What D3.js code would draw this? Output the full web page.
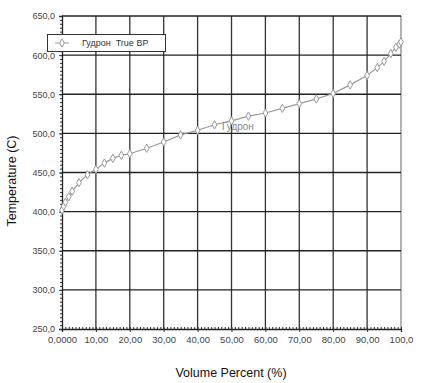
<!DOCTYPE html>
<html>
<head>
<meta charset="utf-8">
<script src="https://cdn.jsdelivr.net/npm/d3@7"></script>
<style>
  body { margin: 0; background: #fff; }
  svg { display: block; font-family: "Liberation Sans", Arial, sans-serif; }
</style>
</head>
<body>
<script>
// distillation curve
const volume = [0, 0.5, 1, 2, 3, 5, 7.5, 10, 12.5, 15, 17.5, 20, 25, 30, 35, 40, 45, 50, 55, 60, 65, 70, 75, 80, 85, 90, 93, 95, 97, 98.5, 99.5, 100];
const temperature = [402, 407, 412, 419, 426, 437, 447, 454, 462, 468, 472, 474, 481, 489, 498, 504, 511, 516, 522, 526, 532, 538, 544, 551, 562, 574, 584, 592, 602, 610, 614, 617];
const xTicks = [0, 10, 20, 30, 40, 50, 60, 70, 80, 90, 100];
const xTickLabels = ["0,0000", "10,00", "20,00", "30,00", "40,00", "50,00", "60,00", "70,00", "80,00", "90,00", "100,0"];
const yTicks = [250, 300, 350, 400, 450, 500, 550, 600, 650];
const yTickLabels = ["250,0", "300,0", "350,0", "400,0", "450,0", "500,0", "550,0", "600,0", "650,0"];
const seriesName = "Гудрон  True BP";
const curveLabel = "Гудрон";

const W = 422, H = 383;
const mLeft = 62, mRight = 401, mTop = 16, mBottom = 329;

const svg = d3.select("body").append("svg")
    .attr("width", W)
    .attr("height", H);

const x = d3.scaleLinear().domain([0, 100]).range([mLeft, mRight]);
const y = d3.scaleLinear().domain([250, 650]).range([mBottom, mTop]);

// grid
svg.append("g")
    .selectAll("line")
    .data(xTicks.slice(1))
    .enter()
    .append("line")
    .attr("x1", d => x(d)).attr("x2", d => x(d))
    .attr("y1", mTop).attr("y2", mBottom)
    .attr("stroke", d => d === 100 ? "#888" : "#333")
    .attr("stroke-width", 1.3);

svg.append("g")
    .selectAll("line")
    .data(yTicks.slice(1))
    .enter()
    .append("line")
    .attr("x1", mLeft).attr("x2", mRight)
    .attr("y1", d => y(d)).attr("y2", d => y(d))
    .attr("stroke", "#222")
    .attr("stroke-width", 1.3);

// minor ticks
const xAxisMinor = d3.axisTop(x).ticks(100).tickSize(2).tickFormat("");
svg.append("g")
    .attr("transform", `translate(0,${mBottom})`)
    .call(xAxisMinor)
    .call(g => g.selectAll("line").attr("stroke", "#333"))
    .call(g => g.select(".domain").remove());

const yAxisMinor = d3.axisLeft(y).ticks(80).tickSize(2).tickFormat("");
svg.append("g")
    .attr("transform", `translate(${mLeft},0)`)
    .call(yAxisMinor)
    .call(g => g.selectAll("line").attr("stroke", "#333"))
    .call(g => g.select(".domain").remove());

// main axes
const xAxis = d3.axisBottom(x)
    .tickValues(xTicks)
    .tickSize(3)
    .tickFormat((d, i) => xTickLabels[i]);
svg.append("g")
    .attr("transform", `translate(0,${mBottom})`)
    .call(xAxis)
    .call(g => g.select(".domain").attr("stroke", "#222").attr("stroke-width", 1.3))
    .call(g => g.selectAll("line").attr("stroke", "#333"))
    .call(g => g.selectAll("text")
        .attr("fill", "#444")
        .attr("font-size", 9.5)
        .attr("dy", "0.85em"));

const yAxis = d3.axisLeft(y)
    .tickValues(yTicks)
    .tickSize(3)
    .tickFormat((d, i) => yTickLabels[i]);
svg.append("g")
    .attr("transform", `translate(${mLeft},0)`)
    .call(yAxis)
    .call(g => g.select(".domain").attr("stroke", "#222").attr("stroke-width", 1.3))
    .call(g => g.selectAll("line").attr("stroke", "#333"))
    .call(g => g.selectAll("text")
        .attr("fill", "#444")
        .attr("font-size", 9)
        .attr("dx", "-0.1em"));

// axis titles
svg.append("text")
    .attr("x", 231).attr("y", 377)
    .attr("text-anchor", "middle")
    .attr("font-size", 12.5)
    .attr("fill", "#111")
    .text("Volume Percent (%)");

svg.append("text")
    .attr("transform", "translate(16,181) rotate(-90)")
    .attr("text-anchor", "middle")
    .attr("font-size", 12.5)
    .attr("fill", "#111")
    .text("Temperature (C)");

// series
const pts = volume.map((v, i) => [v, temperature[i]]);

svg.append("path")
    .datum(pts)
    .attr("fill", "none")
    .attr("stroke", "#999")
    .attr("stroke-width", 1.2)
    .attr("d", d3.line().x(d => x(d[0])).y(d => y(d[1])));

const diamond = d3.symbol().type(d3.symbolDiamond).size(20);
svg.append("g")
    .selectAll("path")
    .data(pts)
    .enter()
    .append("path")
    .attr("transform", d => `translate(${x(d[0])},${y(d[1])})`)
    .attr("d", diamond)
    .attr("fill", "#fff")
    .attr("stroke", "#999")
    .attr("stroke-width", 1);

// curve label
svg.append("text")
    .attr("x", 222).attr("y", 130)
    .attr("font-size", 10)
    .attr("fill", "#888")
    .text(curveLabel);

// legend
const lg = svg.append("g");
lg.append("rect")
    .attr("x", 47.5).attr("y", 34.5)
    .attr("width", 118).attr("height", 17)
    .attr("fill", "#fff")
    .attr("stroke", "#333")
    .attr("stroke-width", 1);
lg.append("line")
    .attr("x1", 55).attr("x2", 69)
    .attr("y1", 43).attr("y2", 43)
    .attr("stroke", "#999");
lg.append("path")
    .attr("transform", "translate(62,43)")
    .attr("d", diamond)
    .attr("fill", "#fff")
    .attr("stroke", "#999");
lg.append("text")
    .attr("x", 82).attr("y", 46)
    .attr("font-size", 9)
    .attr("fill", "#333")
    .style("white-space", "pre")
    .text(seriesName);
</script>
</body>
</html>
